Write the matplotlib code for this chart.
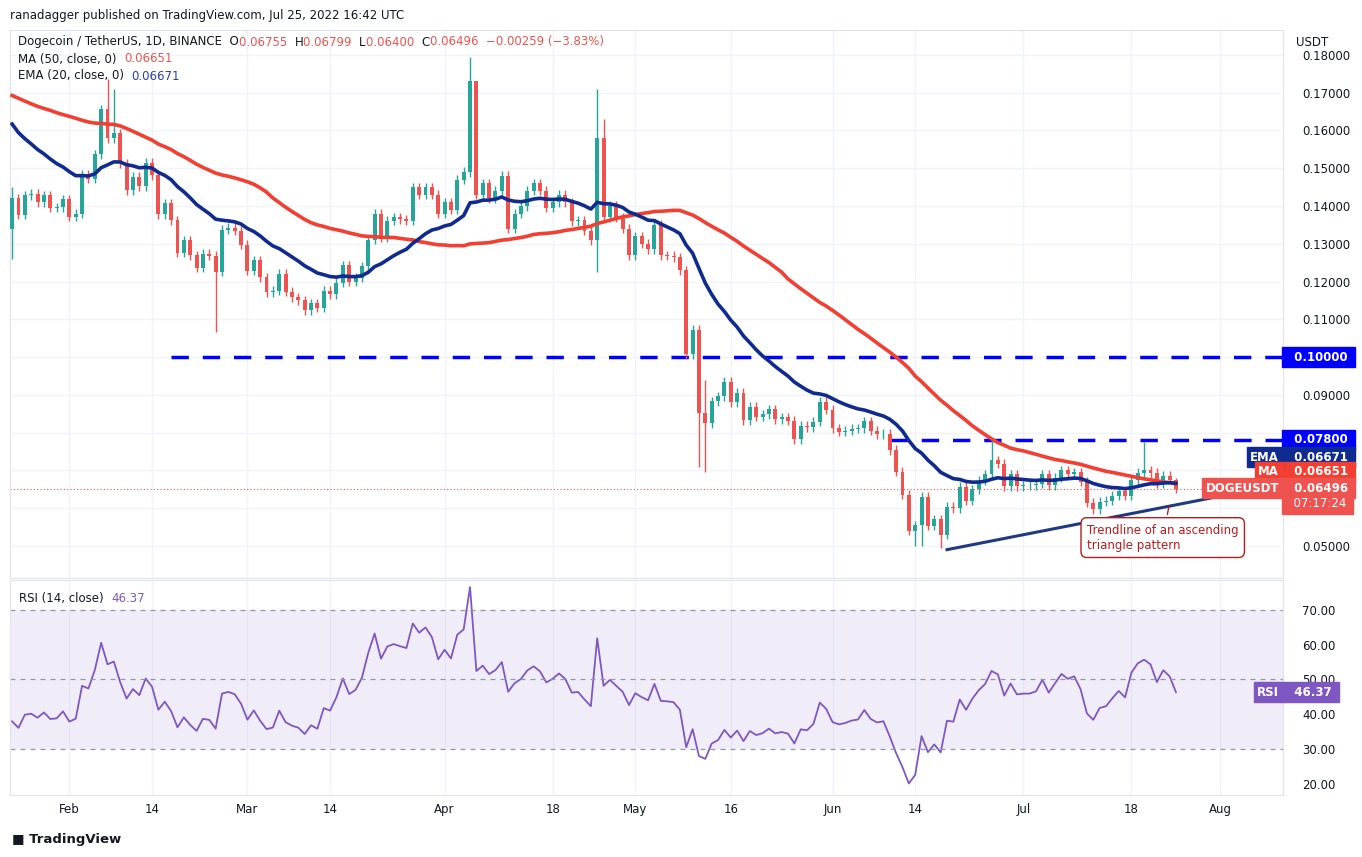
import matplotlib
matplotlib.use("Agg")
import matplotlib.pyplot as plt
import matplotlib.dates as mdates
import numpy as np
import pandas as pd

# ---- data ----
pre_closes = [0.175,0.180,0.178,0.176,0.170,0.165,
              0.170,0.168,0.160,0.163,0.175,0.170,0.168,0.170,0.168,0.162,
              0.172,0.178,0.185,0.185,0.190,0.187,0.190,0.175,0.175,0.180,0.172,
              0.175,0.175,0.170,0.165,0.160,0.158,0.152,0.155,0.154,0.150,
              0.158,0.168,0.174,0.195,0.184,0.178,0.172,0.168,0.165,0.157,0.143,0.138]
first_open = 0.1340
closes = [
 0.1420,0.1377,0.1428,0.1432,0.1410,0.1428,0.1395,0.1397,0.1418,0.1372,
 0.1380,0.1482,0.1472,0.1537,0.1656,0.1580,0.1592,0.1513,0.1442,0.1478,
 0.1452,0.1515,0.1482,0.1378,0.1407,0.1362,0.1276,0.1309,0.1269,0.1236,
 0.1273,0.1268,0.1226,0.1337,0.1343,0.1334,0.1297,0.1229,0.1256,0.1211,
 0.1172,0.1176,0.1220,0.1173,0.1158,0.1150,0.1124,0.1143,0.1130,0.1175,
 0.1167,0.1197,0.1243,0.1200,0.1210,0.1240,0.1311,0.1380,0.1317,0.1361,
 0.1370,0.1365,0.1361,
 0.1450,0.1430,0.1450,0.1430,0.1380,0.1410,0.1390,0.1470,0.1490,0.1730,
 0.1430,0.1460,0.1420,0.1440,0.1480,0.1340,0.1380,0.1400,0.1440,0.1460,
 0.1440,0.1395,0.1410,0.1430,0.1410,0.1360,0.1362,0.1335,0.1310,0.1580,
 0.1370,0.1400,0.1370,0.1340,0.1270,0.1320,0.1300,0.1285,0.1350,0.1270,
 0.1268,0.1264,0.1230,0.1008,0.1072,0.0853,0.0825,0.0883,0.0896,0.0934,
 0.0880,0.0905,0.0833,0.0868,0.0842,0.0848,0.0862,0.0836,0.0840,0.0832,
 0.0783,
 0.0818,0.0814,0.0829,0.0882,0.0860,0.0811,0.0802,0.0805,0.0810,0.0812,
 0.0830,0.0805,0.0795,0.0797,0.0754,0.0696,0.0635,0.0540,0.0555,0.0630,
 0.0553,0.0570,0.0530,0.0604,0.0600,0.0657,0.0620,0.0650,0.0673,0.0690,
 0.0727,0.0718,0.0658,0.0690,0.0658,0.0660,0.0660,0.0665,0.0690,0.0660,
 0.0680,0.0700,0.0690,0.0695,0.0670,0.0614,0.0597,0.0617,0.0620,0.0633,
 0.0645,0.0633,0.0675,0.0693,0.0700,0.0693,0.0665,0.0685,0.06755,0.06496]
start_date = "2022-01-23"
wick_default = 0.0012
high_override = {"2022-02-07":0.1735,"2022-02-08":0.1710,"2022-04-05":0.1795,"2022-04-06":0.1700,
                 "2022-04-25":0.1710,"2022-04-26":0.1630,"2022-05-12":0.0940,"2022-06-26":0.0785,
                 "2022-07-20":0.0774,"2022-07-25":0.06799,"2022-01-23":0.1450}
low_override = {"2022-01-23":0.1260,"2022-02-24":0.1067,"2022-04-25":0.1225,"2022-05-11":0.0710,
                "2022-05-12":0.0695,"2022-06-14":0.0500,"2022-06-15":0.0500,"2022-06-18":0.0495,
                "2022-07-25":0.0640,"2022-07-13":0.0585}
hlines = [(0.10, "2022-02-17"), (0.078, "2022-06-10")]
trend = (("2022-06-19", 0.0490), ("2022-08-02", 0.0635))
xtick_dates = ["2022-02-01","2022-02-14","2022-03-01","2022-03-14","2022-04-01","2022-04-18",
               "2022-05-01","2022-05-16","2022-06-01","2022-06-14","2022-07-01","2022-07-18","2022-08-01"]
xtick_labels = ["Feb","14","Mar","14","Apr","18","May","16","Jun","14","Jul","18","Aug"]
yticks = [0.05,0.06,0.07,0.08,0.09,0.10,0.11,0.12,0.13,0.14,0.15,0.16,0.17,0.18]
hidden_yticks = [0.06, 0.07, 0.08, 0.10]
rsi_ticks = [20,30,40,50,60,70]

# ---- computations ----
dates = pd.date_range(start_date, periods=len(closes), freq="D")
opens = [first_open] + closes[:-1]
opens[-1] = 0.06755
highs, lows = [], []
for d, o, c in zip(dates, opens, closes):
    k = d.strftime("%Y-%m-%d")
    highs.append(high_override.get(k, max(o, c) + wick_default))
    lows.append(low_override.get(k, min(o, c) - wick_default))
allc = pd.Series(pre_closes + closes)
ma50 = allc.rolling(50).mean().values[len(pre_closes):]
ema20 = allc.ewm(span=20, adjust=False).mean().values[len(pre_closes):]
delta = allc.diff()
up = delta.clip(lower=0).ewm(alpha=1/14, adjust=False).mean()
dn = (-delta.clip(upper=0)).ewm(alpha=1/14, adjust=False).mean()
rsi = (100 - 100/(1+up/dn)).values[len(pre_closes):]

GREEN, RED = "#26a69a", "#ef5350"
W, H = 1362, 857
plt.rcParams['font.family'] = ['DejaVu Sans']
fig = plt.figure(figsize=(W/100, H/100), dpi=100)
ax = fig.add_axes([10/W, 1-578/H, 1273/W, 548/H])
ax2 = fig.add_axes([10/W, 1-795/H, 1273/W, 215/H], sharex=ax)

x = mdates.date2num(dates)
cols = [GREEN if c >= o else RED for o, c in zip(opens, closes)]
ax.vlines(x, lows, highs, colors=cols, linewidth=1, zorder=3)
bodies = [max(abs(c-o), 0.0002) for o, c in zip(opens, closes)]
ax.bar(x, bodies, bottom=[min(o, c) for o, c in zip(opens, closes)], width=0.62, color=cols, zorder=4)
ax.plot(x, ma50, color="#f23f32", lw=2.6, zorder=5)
ax.plot(x, ema20, color="#0f2b8f", lw=2.6, zorder=5)
xmax = mdates.date2num(pd.Timestamp("2022-08-10 20:00"))
xmin = mdates.date2num(pd.Timestamp("2022-01-22 16:00"))
for val, d0 in hlines:
    ax.hlines(val, mdates.date2num(pd.Timestamp(d0)), xmax, colors="#0000ff", lw=2.5,
              linestyles=(0, (5, 4)), zorder=2)
ax.plot([mdates.date2num(pd.Timestamp(trend[0][0])), mdates.date2num(pd.Timestamp(trend[1][0]))],
        [trend[0][1], trend[1][1]], color="#203a82", lw=2.2, zorder=6)
ax.axhline(closes[-1], color=RED, lw=0.8, ls=(0, (1, 2)), zorder=1)
ax.set_xlim(xmin, xmax)
ax.set_ylim(0.0415, 0.1866)
ax.set_yticks(yticks)
ax.set_yticklabels(["" if any(abs(v-h) < 1e-9 for h in hidden_yticks) else f"{v:.5f}" for v in yticks])
ax.yaxis.tick_right()
ax.grid(color="#f0f3fa", lw=1)
ax.set_axisbelow(True)
for a in (ax, ax2):
    a.tick_params(length=0, labelsize=8.5, colors="#131722", pad=14)
    for s in a.spines.values():
        s.set_color("#e0e3eb")
ax.set_xticks(mdates.date2num(pd.to_datetime(xtick_dates)))
plt.setp(ax.get_xticklabels(), visible=False)
ax2.set_xticklabels(xtick_labels)
ax2.tick_params(axis="x", pad=6)
fig.text(1296/W, 1-42/H, "USDT", fontsize=8.5, color="#131722", va="center")

# annotation
ax.annotate("Trendline of an ascending\ntriangle pattern",
            xy=(mdates.date2num(pd.Timestamp("2022-07-24")), 0.0613),
            xytext=(mdates.date2num(pd.Timestamp("2022-07-11")), 0.0522),
            fontsize=8.5, color="#b71c1c", va="center", ha="left",
            bbox=dict(boxstyle="round,pad=0.5", fc="white", ec="#b71c1c", lw=1),
            arrowprops=dict(arrowstyle="-", color="#b71c1c", lw=1), zorder=8)

# right labels
def plabel(y, txt, fc, tc="white", xf=1.002, ha="left", bold=True):
    ax.text(xf, y, txt, transform=ax.get_yaxis_transform(), fontsize=8.5, color=tc, ha=ha, va="center",
            fontweight="bold" if bold else "normal",
            bbox=dict(boxstyle="square,pad=0.3", fc=fc, ec=fc), zorder=10, clip_on=False)
plabel(0.1000, "  0.10000 ", "#0000ff")
plabel(0.0781, "  0.07800 ", "#0000ff")
plabel(0.0735, "  0.06671 ", "#0f2b8f")
plabel(0.0696, "  0.06651 ", "#f23f32")
plabel(0.0653, "  0.06496 ", RED)
plabel(0.0612, "  07:17:24 ", RED, bold=False)
plabel(0.0735, "EMA", "#0f2b8f", xf=0.997, ha="right")
plabel(0.0696, "MA", "#f23f32", xf=0.997, ha="right")
plabel(0.0653, "DOGEUSDT", RED, xf=0.997, ha="right")

# header
fig.text(10/W, 1-15/H, "ranadagger published on TradingView.com, Jul 25, 2022 16:42 UTC", fontsize=8.5, color="#131722", va="center")
def chain(parts, x0, y0):
    t = fig.text(x0/W, 1-y0/H, parts[0][0], fontsize=8.5, color=parts[0][1], va="center")
    for txt, col in parts[1:]:
        t = fig.text(0, 0, txt, fontsize=8.5, color=col, va="center",
                     transform=matplotlib.transforms.offset_copy(fig.transFigure, fig=fig))
        t.remove()
        t = plt.annotate(txt, xy=(1, 0.5), xycoords=prev, va="center", ha="left", fontsize=8.5, color=col) if False else None
    return t
def chain2(parts, x0, y0):
    prev = fig.text(x0/W, 1-y0/H, parts[0][0], fontsize=8.5, color=parts[0][1], va="center")
    for txt, col in parts[1:]:
        prev = fig.add_artist(matplotlib.text.Annotation(txt, xy=(1, 0.5), xycoords=prev, va="center",
                               ha="left", fontsize=8.5, color=col))
chain2([("Dogecoin / TetherUS, 1D, BINANCE  O", "#131722"), ("0.06755  ", RED), ("H", "#131722"),
        ("0.06799  ", RED), ("L", "#131722"), ("0.06400  ", RED), ("C", "#131722"),
        ("0.06496  −0.00259 (−3.83%)", RED)], 18, 42)
chain2([("MA (50, close, 0)  ", "#131722"), ("0.06651", RED)], 18, 59)
chain2([("EMA (20, close, 0)  ", "#131722"), ("0.06671", "#2a3fa8")], 18, 76)

# RSI
ax2.plot(x, rsi, color="#7e57c2", lw=1.3)
ax2.axhspan(30, 70, color="#7e57c2", alpha=0.1, lw=0)
for v in (30, 50, 70):
    ax2.axhline(v, color="#9598a1", lw=0.9, ls=(0, (4, 4)))
ax2.set_ylim(16.8, 78.6)
ax2.set_yticks(rsi_ticks)
ax2.set_yticklabels([f"{v:.2f}" for v in rsi_ticks])
ax2.yaxis.tick_right()
ax2.grid(axis="x", color="#f0f3fa", lw=1)
ax2.set_axisbelow(True)
rt = ax2.text(0.007, 0.915, "RSI (14, close)  ", transform=ax2.transAxes, fontsize=8.5, color="#131722", va="center")
ax2.add_artist(matplotlib.text.Annotation(f"{rsi[-1]:.2f}", xy=(1, 0.5), xycoords=rt, va="center",
               ha="left", fontsize=8.5, color="#7e57c2"))
ax2.text(0.997, rsi[-1], "RSI", transform=ax2.get_yaxis_transform(), fontsize=8.5, color="white", ha="right",
         va="center", fontweight="bold", bbox=dict(boxstyle="square,pad=0.3", fc="#7e57c2", ec="#7e57c2"), clip_on=False, zorder=10)
ax2.text(1.002, rsi[-1], f"  {rsi[-1]:.2f} ", transform=ax2.get_yaxis_transform(), fontsize=8.5, color="white",
         ha="left", va="center", fontweight="bold", bbox=dict(boxstyle="square,pad=0.3", fc="#7e57c2", ec="#7e57c2"), clip_on=False, zorder=10)

fig.text(12/W, 1-839/H, "\u25A0 TradingView", fontsize=9.5, color="#131722", va="center", fontweight="bold")
fig.savefig("out.png", dpi=100, facecolor="white")
